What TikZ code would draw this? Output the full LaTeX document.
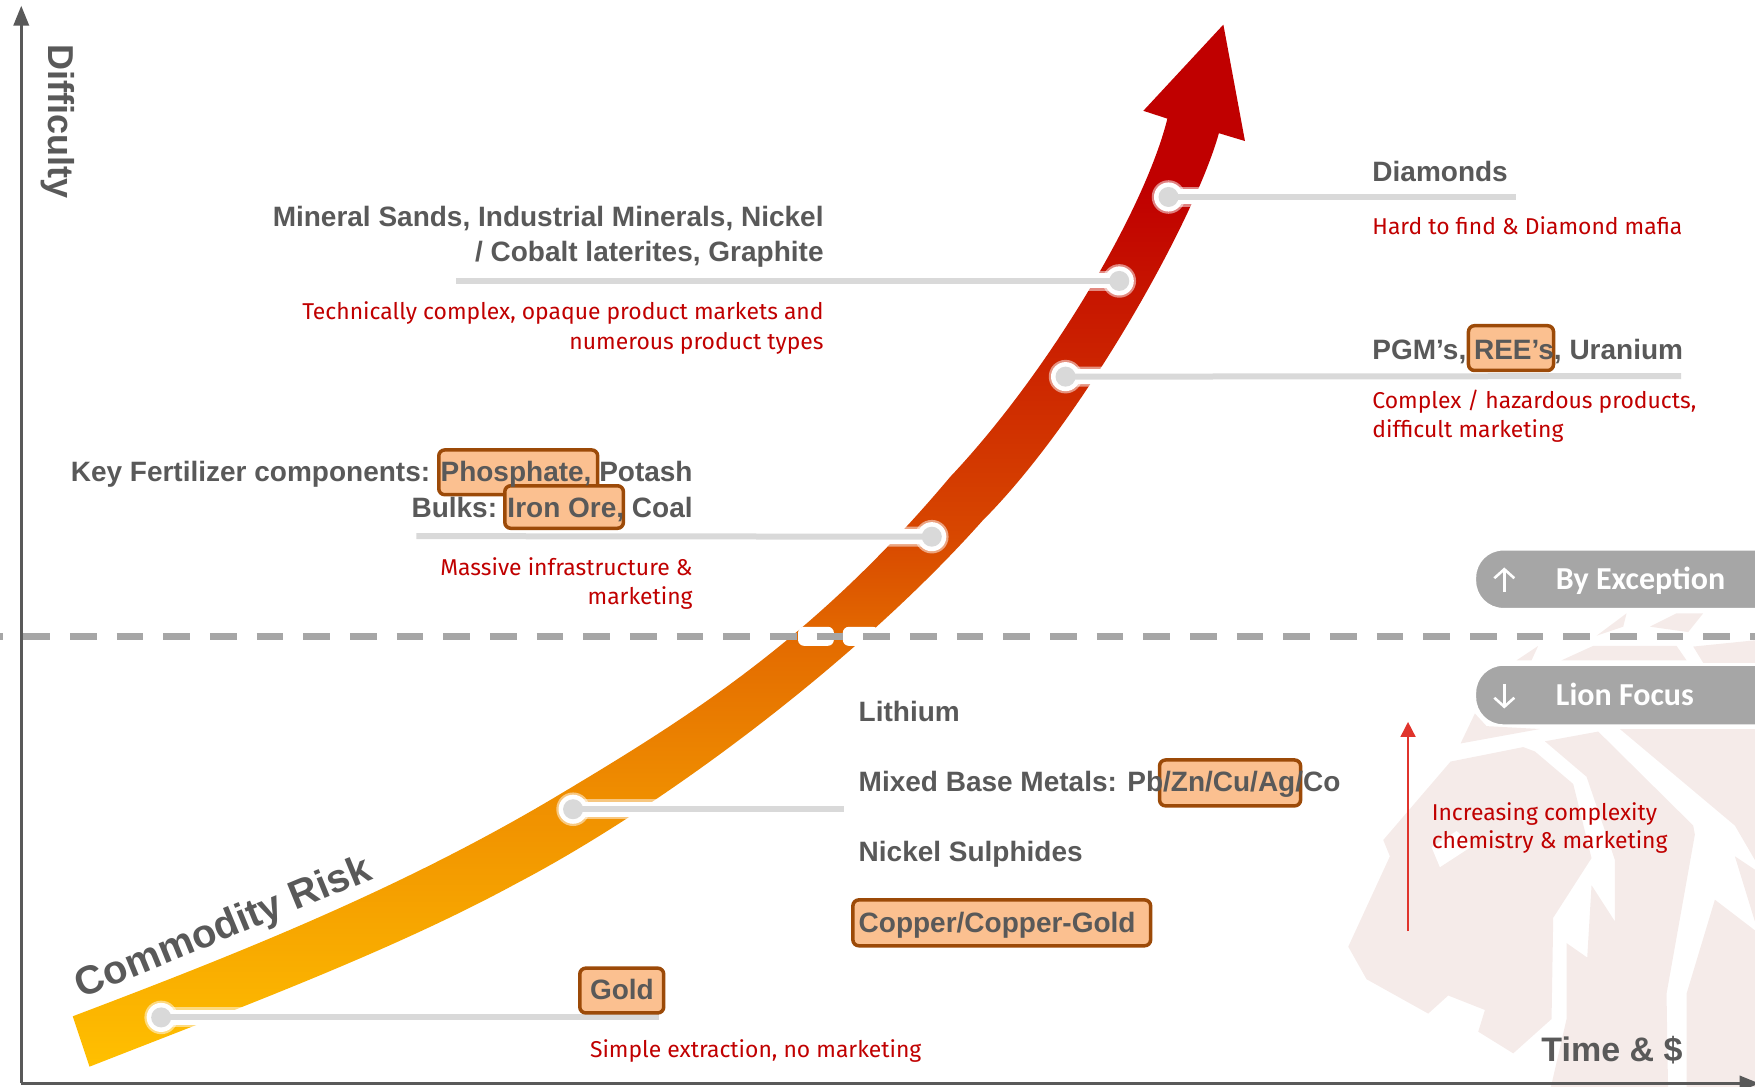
\documentclass[tikz,border=0pt]{standalone}
\usepackage{fontspec}
\setmainfont{Fira Sans}
\newfontfamily\calfnt{Carlito}
\newfontfamily\libfnt{Liberation Sans}
\usetikzlibrary{arrows.meta}
\definecolor{txtgray}{HTML}{595959}
\definecolor{redtxt}{HTML}{C00000}
\definecolor{lionc}{HTML}{F5EBE9}
\definecolor{boxfill}{HTML}{FBC090}
\definecolor{boxline}{HTML}{9C4A08}
\definecolor{conn}{HTML}{D9D9D9}
\definecolor{pillc}{HTML}{A6A6A6}
\definecolor{arrowred}{HTML}{E0342C}
\definecolor{rba}{HTML}{FFC000}
\definecolor{rbb}{HTML}{F09000}
\definecolor{rbc}{HTML}{E36A00}
\definecolor{rbd}{HTML}{D84800}
\definecolor{rbe}{HTML}{C00000}
\pgfdeclareverticalshading{ribbonsh}{100bp}{color(0bp)=(rba); color(25bp)=(rba); color(37.5bp)=(rbb); color(45.6bp)=(rbc); color(50.4bp)=(rbd); color(67bp)=(rbe); color(100bp)=(rbe)}
\tikzset{
  head/.style={font=\libfnt\fontsize{28}{32}\selectfont\bfseries, text=txtgray, inner sep=0pt},
  note/.style={font=\fontsize{22.9}{27}\selectfont, text=redtxt, inner sep=0pt, yshift=-1pt},
  hbox/.style={draw=boxline, fill=boxfill, line width=3.5pt, rounded corners=6pt},
  halo/.style={draw=white, line width=20pt, opacity=.5},
  halob/.style={draw=white, line width=15pt},
  link/.style={draw=conn, line width=6pt},
  dotn/.style={circle, fill=conn, minimum size=20pt, inner sep=0pt},
  pill/.style={fill=pillc, draw=white, line width=2pt, rounded corners=28pt},
  pilltxt/.style={font=\calfnt\fontsize{32}{36}\selectfont\bfseries, text=white, inner sep=0pt},
  axisl/.style={draw=txtgray, line width=3.5pt, -{Triangle[length=20pt,width=15pt]}},
}
\begin{document}
\begin{tikzpicture}[x=1.1193pt,y=-1.1193pt]
\useasboundingbox (0,0) rectangle (1568,971);
\begin{scope}
\clip (0,0) rectangle (1568,971);
% lion watermark
\begin{scope}[shift={(1161.4,464.6)},x=.3333pt,y=-.3616pt]
\fill[lionc] (452,668)--(670,628)--(705,640)--(820,730)--(875,935)--(760,1100)--(755,1380)--(640,1475)--(535,1415)--(555,1355)--(445,1315)--(385,1365)--(200,1270)--(145,1180)--(270,930)--(250,885)--cycle;
\fill[white] (395,905)--(420,960)--(520,900)--(470,860)--cycle;
\fill[lionc] (735,612)--(895,585)--(1180,845)--(1185,870)--(1100,1310)--(1105,1600)--(745,1600)--(800,1380)--(800,1170)--(862,1210)--(875,1010)--(945,1110)--(945,940)--(860,710)--cycle;
\fill[lionc] (960,578)--(1500,578)--(1500,1000)--(1365,940)--(1305,845)--cycle;
\fill[lionc] (1305,930)--(1500,1050)--(1500,1200)--(1365,1110)--cycle;
\fill[lionc] (1245,1050)--(1500,1230)--(1500,1600)--(1160,1600)--(1160,1310)--cycle;
\fill[lionc] (482,618)--(525,535)--(560,570)--(720,578)--cycle;
\fill[lionc] (650,388)--(715,348)--(695,388)--cycle;
\fill[lionc] (785,388)--(880,348)--(1130,348)--(1160,388)--cycle;
\fill[lionc] (890,320)--(980,258)--(970,295)--cycle;
\fill[lionc] (1050,295)--(1130,258)--(1210,258)--(1165,310)--cycle;
\fill[lionc] (1180,350)--(1500,320)--(1500,395)--(1210,395)--cycle;
\end{scope}
% ribbon arrow
\path[shading=ribbonsh] (65,908)
  .. controls (210,853) and (360,794) .. (503,708)
  .. controls (620,638) and (729,569) .. (849,426)
  .. controls (935,335) and (1022,190) .. (1043,106)
  -- (1021.5,99) -- (1093,22) -- (1112.3,126) -- (1089,119)
  .. controls (1068,195) and (968,375) .. (878,465)
  .. controls (765,592) and (590,722) .. (462,789)
  .. controls (350,850) and (210,902) .. (80,953) -- cycle;
% connectors
\coordinate (eGold) at (589,909);
\coordinate (eBase) at (754,723);
\coordinate (eFert) at (372,479);
\coordinate (ePgm) at (1502,336);
\coordinate (eSand) at (407,251);
\coordinate (eDia) at (1354,176);
\coordinate (dGoldC) at (144,909);
\coordinate (dBaseC) at (512,723);
\coordinate (dFertC) at (832.5,479.5);
\coordinate (dPgmC) at (952,336.5);
\coordinate (dSandC) at (1000,251);
\coordinate (dDiaC) at (1044,176);
\foreach \a/\b in {dGoldC/eGold,dBaseC/eBase,dFertC/eFert,dPgmC/ePgm,dSandC/eSand,dDiaC/eDia}{
  \path[halo] (\a) -- (\b);
  \path[halob] (\a) -- (\b);
  \fill[white,opacity=.5] (\a) circle (15);
  \fill[white] (\a) circle (13);
}
\path[link] (dGoldC) -- (eGold);
\path[link] (dBaseC) -- (eBase);
\path[link] (dFertC) -- (eFert);
\path[link] (dPgmC) -- (ePgm);
\path[link] (dSandC) -- (eSand);
\path[link] (dDiaC) -- (eDia);
\node[dotn] (dGold) at (dGoldC) {};
\node[dotn] (dBase) at (dBaseC) {};
\node[dotn] (dFert) at (dFertC) {};
\node[dotn] (dPgm) at (dPgmC) {};
\node[dotn] (dSand) at (dSandC) {};
\node[dotn] (dDia) at (dDiaC) {};
% dashed divider
\fill[white,rounded corners=6pt] (713,560) rectangle (745,577);
\fill[white,rounded corners=6pt] (753,560) rectangle (785,577);
\coordinate (dashL) at (-20.9,568.8);
\coordinate (dashR) at (1568,568.8);
\draw[pillc,line width=6.5pt,dash pattern=on 26.67pt off 20pt] (dashL) -- (dashR);
% axes
\coordinate (orig) at (19,968);
\coordinate (ytop) at (19,5);
\coordinate (xend) at (1572,968);
\draw[axisl] (orig) -- (ytop);
\draw[axisl] (orig) -- (xend);
% highlight boxes
\draw[hbox] (392,402) rectangle (534,442);
\draw[hbox] (451,434) rectangle (557,472);
\draw[hbox] (1312,291) rectangle (1388,331);
\draw[hbox] (1036,679) rectangle (1162,720);
\draw[hbox] (762,804) rectangle (1028,845);
\draw[hbox] (518,865) rectangle (593,905);
% headings
\node[head,anchor=base east] (t1) at (736,202) {Mineral Sands, Industrial Minerals, Nickel};
\node[head,anchor=base east] (t2) at (736,234) {/ Cobalt laterites, Graphite};
\node[head,anchor=base east] (t3) at (619,430) {Key Fertilizer components: Phosphate, Potash};
\node[head,anchor=base east] (t4) at (619,462) {Bulks: Iron Ore, Coal};
\node[head,anchor=base west] (t5) at (1226,162) {Diamonds};
\node[head,anchor=base west] (t6) at (1226,321) {PGM’s, REE’s, Uranium};
\node[head,anchor=base west] (t7) at (767,645) {Lithium};
\node[head,anchor=base west] (t8) at (767,707) {Mixed Base Metals: Pb/Zn/Cu/Ag/Co};
\node[head,anchor=base west] (t9) at (767,770) {Nickel Sulphides};
\node[head,anchor=base west] (t10) at (767,833) {Copper/Copper-Gold};
\node[head,anchor=base west] (t11) at (527,893) {Gold};
% notes
\node[note,anchor=base east] (n1) at (736,285) {Technically complex, opaque product markets and};
\node[note,anchor=base east] (n2) at (736,311) {numerous product types};
\node[note,anchor=base east] (n3) at (619,513) {Massive infrastructure \&};
\node[note,anchor=base east] (n4) at (619,539) {marketing};
\node[note,anchor=base west] (n5) at (1226,209) {Hard to find \& Diamond mafia};
\node[note,anchor=base west] (n6) at (1226,364) {Complex / hazardous products,};
\node[note,anchor=base west] (n7) at (1226,390) {difficult marketing};
\node[note,anchor=base west] (n8) at (527,944) {Simple extraction, no marketing};
\node[note,anchor=base west] (n9) at (1279,732) {Increasing complexity};
\node[note,anchor=base west] (n10) at (1279,757) {chemistry \& marketing};
% axis labels
\node[font=\libfnt\fontsize{36}{40}\selectfont\bfseries,text=txtgray,rotate=-90,inner sep=0pt] (lDiff) at (52,109) {Difficulty};
\node[font=\libfnt\fontsize{34}{38}\selectfont\bfseries,text=txtgray,anchor=base west,inner sep=0pt] (lTime) at (1377,948) {Time \& \$};
\node[font=\libfnt\fontsize{40}{46}\selectfont\bfseries,text=txtgray,rotate=22.3,anchor=base west,inner sep=0pt] (lRisk) at (73,892) {Commodity Risk};
% red arrow
\coordinate (raS) at (1258,832);
\coordinate (raE) at (1258,645);
\draw[arrowred,line width=1.6pt,-{Triangle[length=15pt,width=15pt]}] (raS) -- (raE);
% pills
\draw[pill] (1318,491) rectangle (1640,544);
\draw[pill] (1318,594) rectangle (1640,648);
\node[pilltxt,anchor=base west] (p1) at (1390,527) {By Exception};
\node[pilltxt,anchor=base west] (p2) at (1390,630) {Lion Focus};
\coordinate (u1) at (1344,529);
\coordinate (u2) at (1344,507);
\coordinate (v1) at (1344,611);
\coordinate (v2) at (1344,633);
\draw[white,line width=2.6pt,-{Straight Barb[length=9pt,width=20pt]}] (u1) -- (u2);
\draw[white,line width=2.6pt,-{Straight Barb[length=9pt,width=20pt]}] (v1) -- (v2);
\end{scope}
\end{tikzpicture}
\end{document}
